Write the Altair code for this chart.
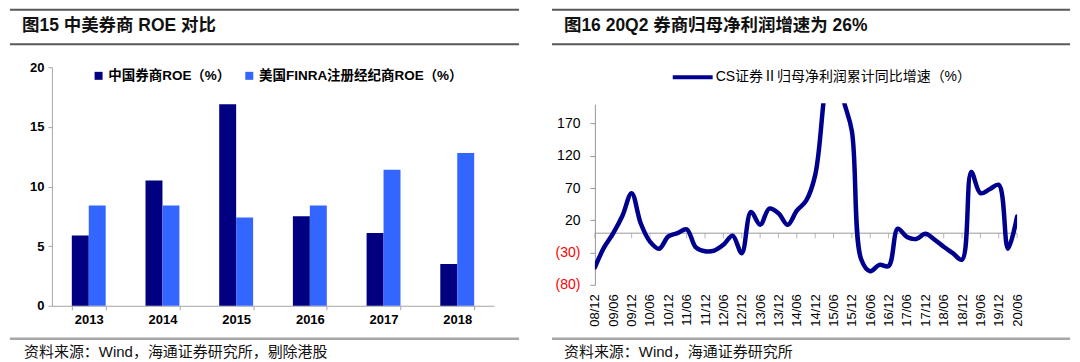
import altair as alt
import pandas as pd

# ---------------- data ----------------
years = ["2013", "2014", "2015", "2016", "2017", "2018"]
china_roe = [5.9, 10.5, 16.9, 7.5, 6.1, 3.5]
us_roe = [8.4, 8.4, 7.4, 8.4, 11.4, 12.8]
series_cn = "中国券商ROE（%）"
series_us = "美国FINRA注册经纪商ROE（%）"
roe_ticks = [0, 5, 10, 15, 20]

all_q = [f"{y % 100:02d}/{m}" for y in range(2008, 2021) for m in ("03", "06", "09", "12")]
quarters = all_q[3:50]  # 08/12 ... 20/06
growth = [-53, -22, 0, 27, 62, 15, -13, -24, -5, 0,
          6, -22, -28, -27, -18, -4, -31, 33, 13, 38,
          31, 13, 35, 50, 90, 215, 320, 212, 158, -40,
          -59, -49, -51, 7, -6, -9, -1, -10, -21, -31,
          -41, 95, 62, 68, 75, -24, 26]
shown_labels = quarters[::2]
line_name = "CS证券Ⅱ归母净利润累计同比增速（%）"
growth_ticks = [-80, -30, 20, 70, 120, 170]

title_left = "图15 中美券商 ROE 对比"
title_right = "图16 20Q2 券商归母净利润增速为 26%"
source_left = "资料来源：Wind，海通证券研究所，剔除港股"
source_right = "资料来源：Wind，海通证券研究所"

# ---------------- styling ----------------
NUM = "Liberation Sans"
MIX = "Liberation Sans, Noto Sans CJK SC"
DARK = "#000080"
LIGHT = "#3366FF"
LINE = "#00008F"
AXIS_GRAY = "#a6a6a6"

W1, H1 = 443, 239
W2, H2 = 423, 218

one = pd.DataFrame({"k": [0]})


def decor(title, source, xl, xr, tx, sx):
    top = alt.Chart(one).mark_rule(color="#595959", strokeWidth=2).encode(
        x=alt.value(xl), x2=alt.value(xr), y=alt.value(-57.5))
    bot = alt.Chart(one).mark_rule(color="#595959", strokeWidth=2).encode(
        x=alt.value(xl), x2=alt.value(xr), y=alt.value(-23))
    foot = alt.Chart(one).mark_rule(color="#a6a6a6", strokeWidth=2.5).encode(
        x=alt.value(xl), x2=alt.value(xr), y=alt.value(272))
    ttl = alt.Chart(one).mark_text(align="left", baseline="middle", font=MIX, fontSize=17.5,
                                   fontWeight="bold", color="#111111").encode(
        x=alt.value(tx), y=alt.value(-41), text=alt.value(title))
    src = alt.Chart(one).mark_text(align="left", baseline="middle", font=MIX, fontSize=15,
                                   color="#111111").encode(
        x=alt.value(sx), y=alt.value(285), text=alt.value(source))
    return [top, bot, foot, ttl, src]


# ---------------- left panel: bars ----------------
bar_df = pd.DataFrame({
    "year": years * 2,
    "series": [series_cn] * len(years) + [series_us] * len(years),
    "value": china_roe + us_roe,
})

bars = alt.Chart(bar_df).mark_bar().encode(
    x=alt.X("year:N", sort=years, title=None,
            scale=alt.Scale(paddingInner=0.54, paddingOuter=0.27),
            axis=alt.Axis(labelAngle=0, labelFont=NUM, labelFontSize=13, labelFontWeight="bold",
                          labelColor="#000000", domainColor=AXIS_GRAY, tickColor=AXIS_GRAY,
                          tickBand="extent", tickSize=4, labelPadding=4)),
    xOffset=alt.XOffset("series:N", sort=[series_cn, series_us], scale=alt.Scale(paddingInner=0)),
    y=alt.Y("value:Q", title=None, scale=alt.Scale(domain=[0, 20], nice=False),
            axis=alt.Axis(values=roe_ticks, grid=False, labelFont=NUM, labelFontSize=13,
                          labelFontWeight="bold", labelColor="#000000", domainColor=AXIS_GRAY,
                          tickColor=AXIS_GRAY, tickSize=4, labelPadding=4)),
    color=alt.Color("series:N", sort=[series_cn, series_us],
                    scale=alt.Scale(domain=[series_cn, series_us], range=[DARK, LIGHT]),
                    legend=alt.Legend(title=None, orient="none", legendX=40, legendY=1.5,
                                      direction="horizontal", symbolType="square", symbolSize=64,
                                      symbolStrokeWidth=0, labelFont=MIX, labelFontSize=13.5,
                                      labelFontWeight="bold", labelColor="#000000", labelOffset=3,
                                      columnPadding=12, labelLimit=400)),
)

left = alt.layer(bars, *decor(title_left, source_left, -42, 468, -30, -28)).properties(
    width=W1, height=H1)

# ---------------- right panel: line ----------------
line_df = pd.DataFrame({"q": quarters, "v": growth, "name": [line_name] * len(quarters)})
xscale2 = alt.Scale(type="point", padding=0, domain=quarters)
yscale2 = alt.Scale(domain=[-80, 200], range=[H2, 37], nice=False, zero=False)

line = alt.Chart(line_df).mark_line(interpolate="catmull-rom", strokeWidth=4.5, clip=True,
                                    strokeCap="round", strokeJoin="round").encode(
    x=alt.X("q:O", sort=quarters, scale=xscale2, title=None,
            axis=alt.Axis(values=shown_labels, labelAngle=270, ticks=False, tickSize=0,
                          domain=False, labelFont=NUM, labelFontSize=13, labelPadding=9,
                          labelColor="#000000", labelOverlap=False)),
    y=alt.Y("v:Q", scale=yscale2, title=None,
            axis=alt.Axis(values=growth_ticks, grid=False, labelFont=NUM, labelFontSize=14,
                          labelExpr="datum.value < 0 ? '(' + abs(datum.value) + ')' : datum.label",
                          labelColor={"condition": {"test": "datum.value < 0", "value": "#ff0000"},
                                      "value": "#000000"},
                          domainColor="#999999", tickColor="#999999", tickSize=5, labelPadding=10)),
    color=alt.Color("name:N", scale=alt.Scale(domain=[line_name], range=[LINE]),
                    legend=alt.Legend(title=None, orient="none", legendX=76, legendY=-12,
                                      symbolType="stroke", symbolSize=1600, symbolStrokeWidth=4,
                                      labelFont=MIX, labelFontSize=14, labelColor="#000000",
                                      labelFontWeight="normal",
                                      labelOffset=1, labelLimit=500)),
)

zero_line = alt.Chart(one).mark_rule(color="#999999", strokeWidth=1).encode(y=alt.datum(0))
zero_ticks = alt.Chart(pd.DataFrame({"q": shown_labels})).mark_tick(
    orient="vertical", size=5, thickness=1, color="#999999", yOffset=2.5).encode(
    x=alt.X("q:O", sort=quarters, scale=xscale2), y=alt.datum(0))
mask = alt.Chart(one).mark_rect(color="white").encode(
    x=alt.value(-2), x2=alt.value(W2 + 8), y=alt.value(-2), y2=alt.value(36))

right = alt.layer(zero_line, zero_ticks, line, mask,
                  *decor(title_right, source_right, -43, 476, -31, -31)).properties(
    width=W2, height=H2)

chart = alt.hconcat(left, right, spacing=101, bounds="flush").resolve_scale(
    color="independent").resolve_legend(color="independent").properties(
    padding=0, background="white").configure_view(stroke=None)

chart.save("out.html", embed_options={"renderer": "svg", "actions": False})
